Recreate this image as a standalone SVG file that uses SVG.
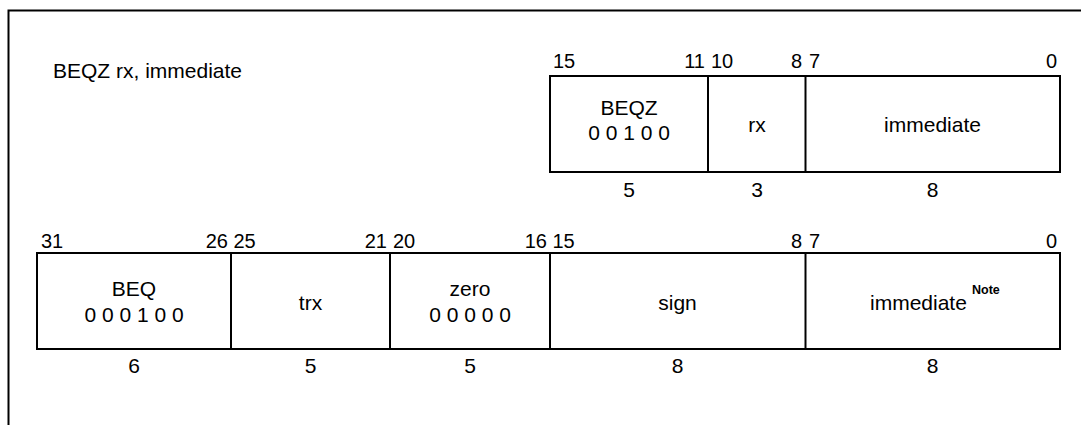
<svg xmlns="http://www.w3.org/2000/svg" width="1081" height="425" viewBox="0 0 1081 425">
<style>
text{font-family:"Liberation Sans",Arial,sans-serif;font-size:21px;fill:#000}
.c{text-anchor:middle}
.r{text-anchor:end}
.b{font-size:20px}
.box{fill:#fff;stroke:#000;stroke-width:2}
.ln{stroke:#000;stroke-width:2;fill:none}
.note{font-size:12.5px;font-weight:bold}
</style>
<rect width="1081" height="425" fill="#fff"/>
<path class="ln" d="M8.5,425 V10.5 H1081" stroke-width="2.5"/>
<g id="title"><text x="53" y="78">BEQZ rx, immediate</text></g>
<g id="top-format">
<rect class="box" x="550" y="76" width="510" height="96"/>
<line class="ln" x1="708" y1="76" x2="708" y2="172"/>
<line class="ln" x1="805.5" y1="76" x2="805.5" y2="172"/>
<text class="b" x="553" y="68">15</text>
<text class="b r" x="705" y="68">11</text>
<text class="b" x="711" y="68">10</text>
<text class="b r" x="802" y="68">8</text>
<text class="b" x="809" y="68">7</text>
<text class="b r" x="1057" y="68">0</text>
<text class="c" x="629" y="115">BEQZ</text>
<text class="c" x="629" y="140">0 0 1 0 0</text>
<text class="c" x="757" y="132">rx</text>
<text class="c" x="932.5" y="132">immediate</text>
<text class="c" x="629" y="197">5</text>
<text class="c" x="757" y="197">3</text>
<text class="c" x="932.5" y="197">8</text>
</g>
<g id="bottom-format">
<rect class="box" x="37" y="253" width="1023" height="96"/>
<line class="ln" x1="231" y1="253" x2="231" y2="349"/>
<line class="ln" x1="390" y1="253" x2="390" y2="349"/>
<line class="ln" x1="550" y1="253" x2="550" y2="349"/>
<line class="ln" x1="805.5" y1="253" x2="805.5" y2="349"/>
<text class="b" x="41" y="248">31</text>
<text class="b r" x="228" y="248">26</text>
<text class="b" x="233.5" y="248">25</text>
<text class="b r" x="387" y="248">21</text>
<text class="b" x="393" y="248">20</text>
<text class="b r" x="547" y="248">16</text>
<text class="b" x="552.5" y="248">15</text>
<text class="b r" x="802" y="248">8</text>
<text class="b" x="809" y="248">7</text>
<text class="b r" x="1057" y="248">0</text>
<text class="c" x="134" y="296">BEQ</text>
<text class="c" x="134" y="322">0 0 0 1 0 0</text>
<text class="c" x="310.5" y="310">trx</text>
<text class="c" x="470" y="296">zero</text>
<text class="c" x="470" y="322">0 0 0 0 0</text>
<text class="c" x="677.5" y="310">sign</text>
<text x="870" y="310">immediate</text>
<text class="note" x="972" y="294">Note</text>
<text class="c" x="134" y="373">6</text>
<text class="c" x="310.5" y="373">5</text>
<text class="c" x="470" y="373">5</text>
<text class="c" x="677.5" y="373">8</text>
<text class="c" x="932.5" y="373">8</text>
</g>
</svg>
